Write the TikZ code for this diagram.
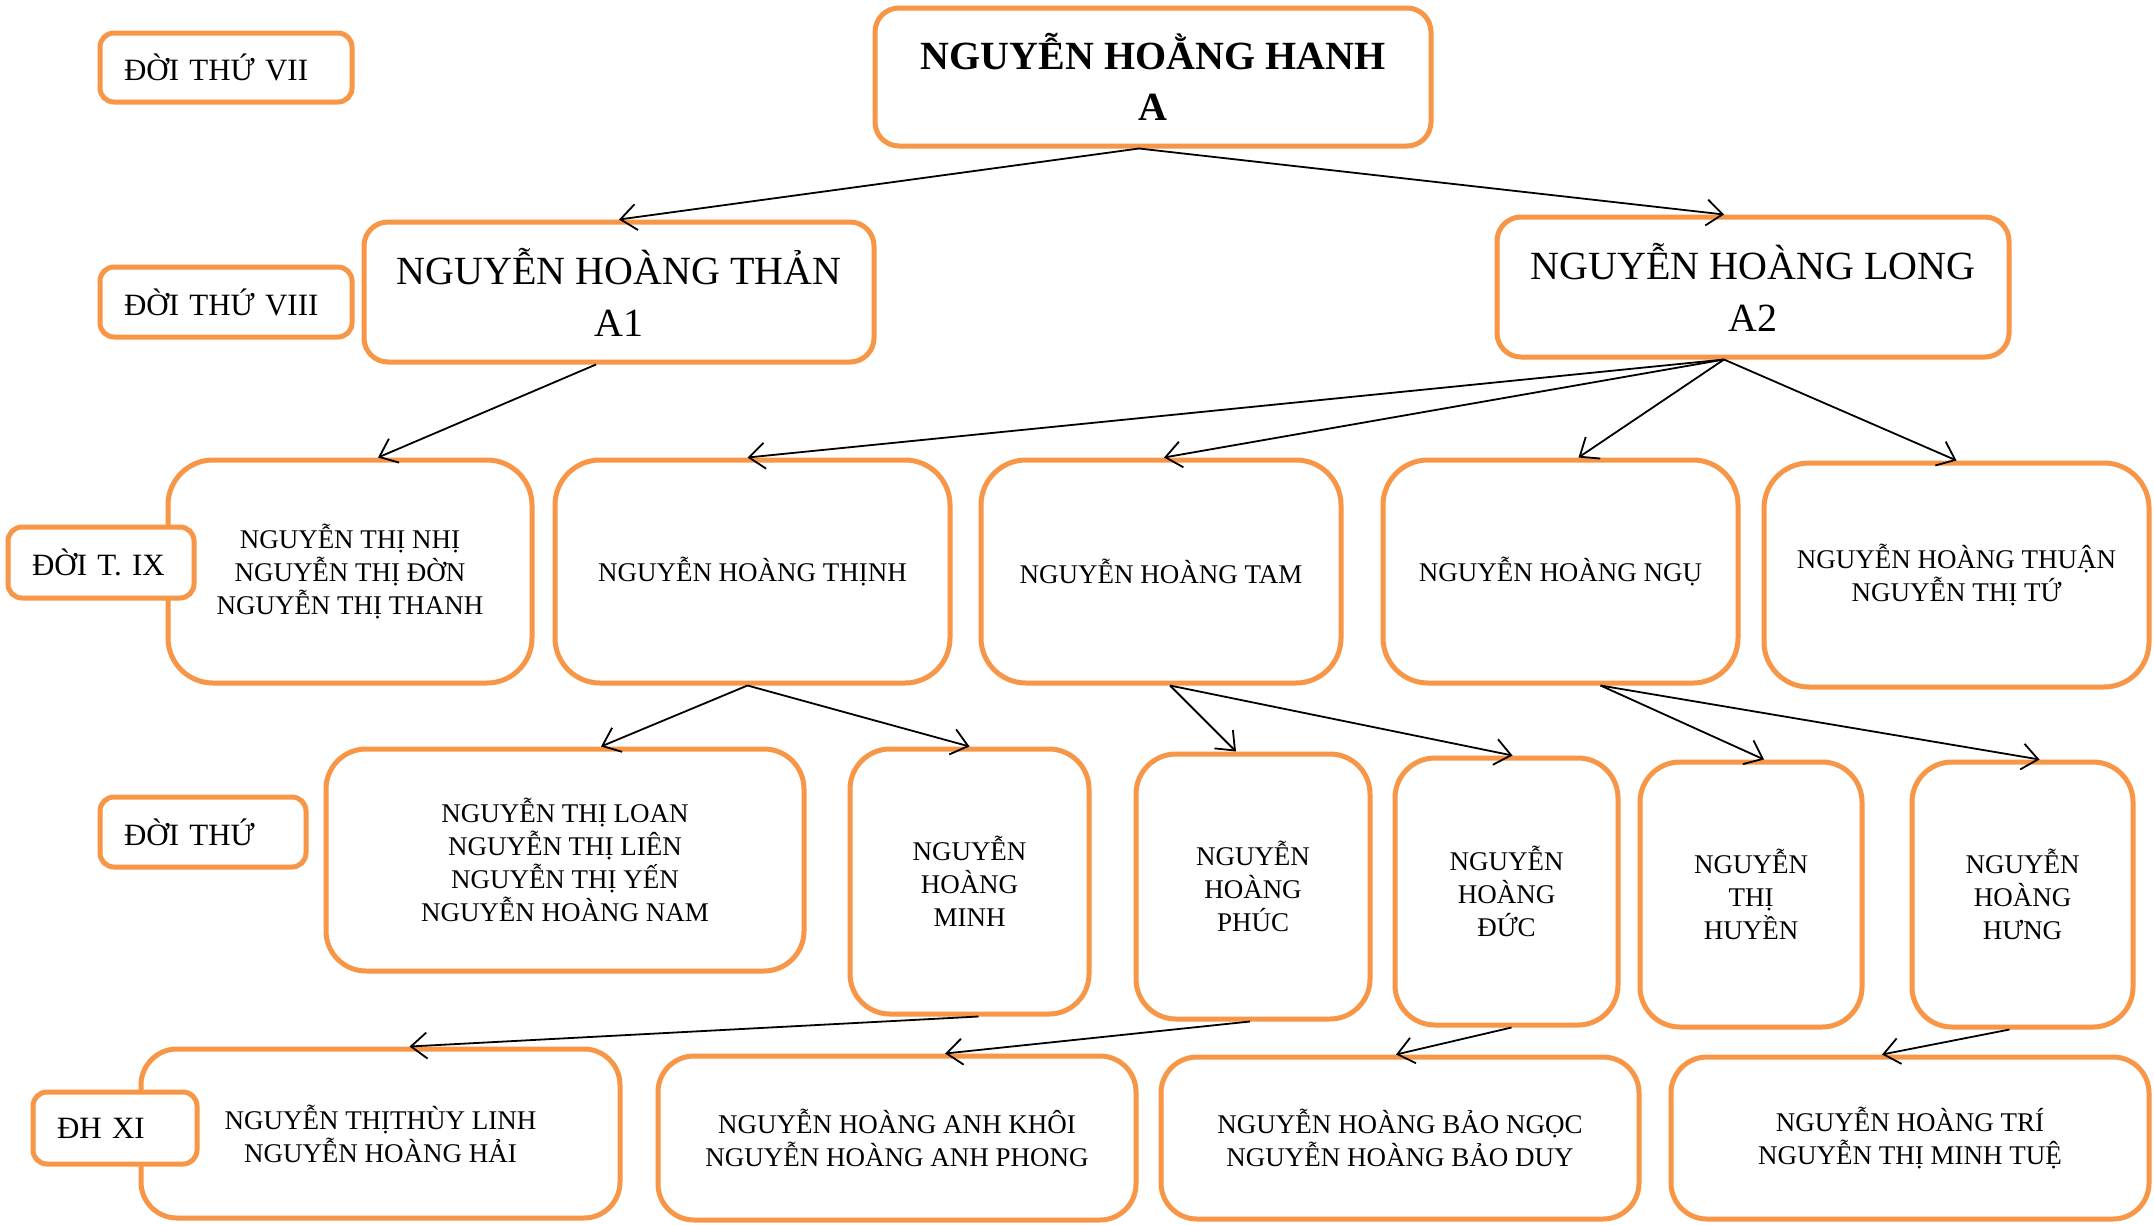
\documentclass[tikz,border=0pt]{standalone}
\usepackage{fontspec}
\setmainfont{Liberation Serif}
\usetikzlibrary{arrows.meta}
\definecolor{boxorange}{HTML}{F79646}
\begin{document}
\begin{tikzpicture}[x=1pt,y=-1pt,
  box/.style={draw=boxorange, line width=5pt, fill=white, rounded corners=#1,
    inner sep=0pt, align=center, font=\fontsize{27}{33}\selectfont},
  box/.default=40pt,
  bigbox/.style={box=24pt, font=\fontsize{40}{52}\selectfont},
  labbox/.style={draw=boxorange, line width=5pt, fill=white, rounded corners=14pt,
    inner xsep=24pt, inner ysep=0pt, align=left, font=\fontsize{31}{37}\selectfont},
  conn/.style={line width=1.8pt, -{Straight Barb[length=16pt,width=26pt,line width=1.8pt]}}
]
\useasboundingbox[fill=white] (0,0) rectangle (2154,1224);

% generation VII / VIII
\node[bigbox, font=\fontsize{40}{51}\selectfont\bfseries, minimum width=556, minimum height=138] (A) at (1153,77) {NGUYỄN HOẰNG HANH\\A};
\node[bigbox, minimum width=510, minimum height=140] (A1) at (619,292) {NGUYỄN HOÀNG THẢN\\A1};
\node[bigbox, minimum width=512, minimum height=140] (A2) at (1753,287) {NGUYỄN HOÀNG LONG\\A2};

% generation IX
\node[box=45pt, minimum width=364, minimum height=223] (nhi) at (350,571.5) {NGUYỄN THỊ NHỊ\\NGUYỄN THỊ ĐỜN\\NGUYỄN THỊ THANH};
\node[box=45pt, minimum width=395, minimum height=223] (thinh) at (752.5,571.5) {NGUYỄN HOÀNG THỊNH};
\node[box=45pt, minimum width=360, minimum height=223] (tam) at (1161,571.5) {NGUYỄN HOÀNG TAM};
\node[box=45pt, minimum width=355, minimum height=223] (ngu) at (1560.5,571.5) {NGUYỄN HOÀNG NGỤ};
\node[box=45pt, minimum width=385, minimum height=224] (thuan) at (1956.5,575) {NGUYỄN HOÀNG THUẬN\\NGUYỄN THỊ TỨ};

% generation X
\node[box=40pt, minimum width=478, minimum height=222] (loan) at (565,860) {NGUYỄN THỊ LOAN\\NGUYỄN THỊ LIÊN\\NGUYỄN THỊ YẾN\\NGUYỄN HOÀNG NAM};
\node[box=40pt, minimum width=239, minimum height=265] (minh) at (969.5,881.5) {NGUYỄN\\HOÀNG\\MINH};
\node[box=40pt, minimum width=234, minimum height=265] (phuc) at (1253,886.5) {NGUYỄN\\HOÀNG\\PHÚC};
\node[box=40pt, minimum width=223, minimum height=267] (duc) at (1506.5,891.5) {NGUYỄN\\HOÀNG\\ĐỨC};
\node[box=40pt, minimum width=222, minimum height=265] (huyen) at (1751,894.5) {NGUYỄN\\THỊ\\HUYỀN};
\node[box=40pt, minimum width=221, minimum height=265] (hung) at (2022.5,894.5) {NGUYỄN\\HOÀNG\\HƯNG};

% generation XI
\node[box=36pt, minimum width=479, minimum height=169] (linh) at (380.5,1133.5) {NGUYỄN THỊTHÙY LINH\\NGUYỄN HOÀNG HẢI};
\node[box=36pt, minimum width=478, minimum height=164] (khoi) at (897,1138) {NGUYỄN HOÀNG ANH KHÔI\\NGUYỄN HOÀNG ANH PHONG};
\node[box=36pt, minimum width=478, minimum height=162] (ngoc) at (1400,1138) {NGUYỄN HOÀNG BẢO NGỌC\\NGUYỄN HOÀNG BẢO DUY};
\node[box=36pt, minimum width=478, minimum height=162] (tri) at (1910,1138) {NGUYỄN HOÀNG TRÍ\\NGUYỄN THỊ MINH TUỆ};

% generation labels
\node[labbox, text width=204, minimum height=69] (l7) at (226,67.5) {ĐỜI THỨ VII};
\node[labbox, text width=204, minimum height=70] (l8) at (226,302) {ĐỜI THỨ VIII};
\node[labbox, text width=138, minimum height=71] (l9) at (101,562.5) {ĐỜI T. IX};
\node[labbox, text width=158, minimum height=70] (l10) at (203,832) {ĐỜI THỨ};
\node[labbox, text width=116, minimum height=72] (l11) at (115,1128) {ĐH XI};

% connectors
\draw[conn] ([xshift=-14]A.south) -- (A1.north);
\draw[conn] ([xshift=-14]A.south) -- ([xshift=-29]A2.north);
\draw[conn] ([xshift=-23]A1.south) -- ([xshift=28]nhi.north);
\draw[conn] ([xshift=-29]A2.south) -- ([xshift=-5]thinh.north);
\draw[conn] ([xshift=-29]A2.south) -- ([xshift=3]tam.north);
\draw[conn] ([xshift=-29]A2.south) -- ([xshift=18]ngu.north);
\draw[conn] ([xshift=-29]A2.south) -- (thuan.north);
\draw[conn] ([xshift=-5]thinh.south) -- ([xshift=36]loan.north);
\draw[conn] ([xshift=-5]thinh.south) -- (minh.north);
\draw[conn] ([xshift=9]tam.south) -- ([xshift=-17]phuc.north);
\draw[conn] ([xshift=9]tam.south) -- ([xshift=6]duc.north);
\draw[conn] ([xshift=40]ngu.south) -- ([xshift=13]huyen.north);
\draw[conn] ([xshift=40]ngu.south) -- ([xshift=17]hung.north);
\draw[conn] ([xshift=9]minh.south) -- ([xshift=29]linh.north);
\draw[conn] ([xshift=-3]phuc.south) -- ([xshift=48]khoi.north);
\draw[conn] ([xshift=5]duc.south) -- ([xshift=-4]ngoc.north);
\draw[conn] ([xshift=-13]hung.south) -- ([xshift=-28]tri.north);
\end{tikzpicture}
\end{document}
